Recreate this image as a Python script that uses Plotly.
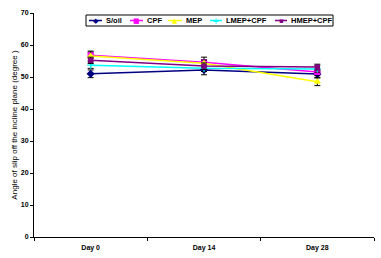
import plotly.graph_objects as go

days = ["Day 0", "Day 14", "Day 28"]
series_names = ["S/oil", "CPF", "MEP", "LMEP+CPF", "HMEP+CPF"]
soil = [51.0, 52.2, 50.9]
cpf = [56.8, 54.6, 51.6]
mep = [56.6, 54.3, 48.5]
lmep_cpf = [53.7, 52.7, 52.5]
hmep_cpf = [55.2, 53.4, 53.1]
soil_err = [1.2, 1.5, 1.0]
cpf_err = [1.0, 1.6, 1.0]
mep_err = [1.5, 1.0, 1.2]
lmep_err = [1.0, 1.0, 1.0]
hmep_err = [1.0, 1.0, 0.9]

values = [soil, cpf, mep, lmep_cpf, hmep_cpf]
errors = [soil_err, cpf_err, mep_err, lmep_err, hmep_err]
colors = ["#000080", "#FF00FF", "#FFFF00", "#00FFFF", "#800080"]
symbols = ["diamond", "square", "triangle-up", "cross-thin-open", "square"]
sizes = [5, 5, 5, 5, 4]
legend_glyphs = ["\u25C6", "\u25A0", "\u25B2", "+", "\u25AA"]

W, H = 381, 258
ML, MR, MT, MB = 34, 7, 13, 21
PW, PH = W - ML - MR, H - MT - MB

fig = go.Figure()
for name, v, e, c, s, sz in zip(series_names, values, errors, colors, symbols, sizes):
    fig.add_trace(go.Scatter(
        x=days, y=v, name=name, mode="lines+markers",
        line=dict(color=c, width=1.5),
        marker=dict(symbol=s, color=c, size=sz, line=dict(color=c, width=1.2)),
        error_y=dict(type="data", array=e, color="black", thickness=1, width=3),
        showlegend=False,
    ))

# manual compact legend (layout only)
def px_x(px):
    return (px - ML) / PW

def px_y(py):
    return (H - MB - py) / PH

box = (86, 15, 333, 26)
fig.add_shape(type="rect", xref="paper", yref="paper",
              x0=px_x(box[0]), x1=px_x(box[2]), y0=px_y(box[3]), y1=px_y(box[1]),
              line=dict(color="black", width=1), fillcolor="white", layer="above")
key_pos = [(89, 102, 104), (130, 143, 145), (168, 182, 184), (210, 222, 224), (275, 287, 289)]
yc = px_y(20.5)
for (k0, k1, lx), name, c, g in zip(key_pos, series_names, colors, legend_glyphs):
    fig.add_shape(type="line", xref="paper", yref="paper",
                  x0=px_x(k0), x1=px_x(k1), y0=yc, y1=yc,
                  line=dict(color=c, width=1.5), layer="above")
    fig.add_annotation(xref="paper", yref="paper", x=px_x((k0 + k1) / 2), y=yc,
                       text=g, showarrow=False, xanchor="center", yanchor="middle",
                       font=dict(color=c, size=7 if g != "+" else 9, family="DejaVu Sans"))
    fig.add_annotation(xref="paper", yref="paper", x=px_x(lx), y=yc,
                       text="<b>" + name + "</b>", showarrow=False,
                       xanchor="left", yanchor="middle",
                       font=dict(color="black", size=7.5, family="Liberation Sans, Arial"))

fig.update_layout(
    width=W, height=H,
    margin=dict(l=ML, r=MR, t=MT, b=MB, autoexpand=False),
    paper_bgcolor="white", plot_bgcolor="white",
    font=dict(family="Liberation Sans, Arial", size=7, color="black"),
    showlegend=False,
    xaxis=dict(
        type="category", range=[-0.5, 2.5], tickson="boundaries",
        ticks="outside", ticklen=3, tickcolor="black",
        showline=True, linecolor="black", linewidth=1,
        showgrid=False, zeroline=False, automargin=False,
        tickfont=dict(size=7, family="Liberation Sans, Arial"),
        ticklabelstandoff=4,
        tickprefix="<b>", ticksuffix="</b>",
    ),
    yaxis=dict(
        range=[0, 70], dtick=10, ticks="outside", ticklen=3, tickcolor="black",
        showline=True, linecolor="black", linewidth=1,
        showgrid=False, zeroline=False, automargin=False,
        tickfont=dict(size=7, family="Liberation Sans, Arial"),
        tickprefix="<b>", ticksuffix="</b>",
        title=dict(text="Angle of slip off the incline plane (degree )",
                   font=dict(size=8, family="Liberation Sans, Arial"), standoff=2),
    ),
)

fig.write_html(
    "out.html",
    config={"displayModeBar": False},
    post_script="document.body.style.margin='0';document.body.style.overflow='hidden';",
)
